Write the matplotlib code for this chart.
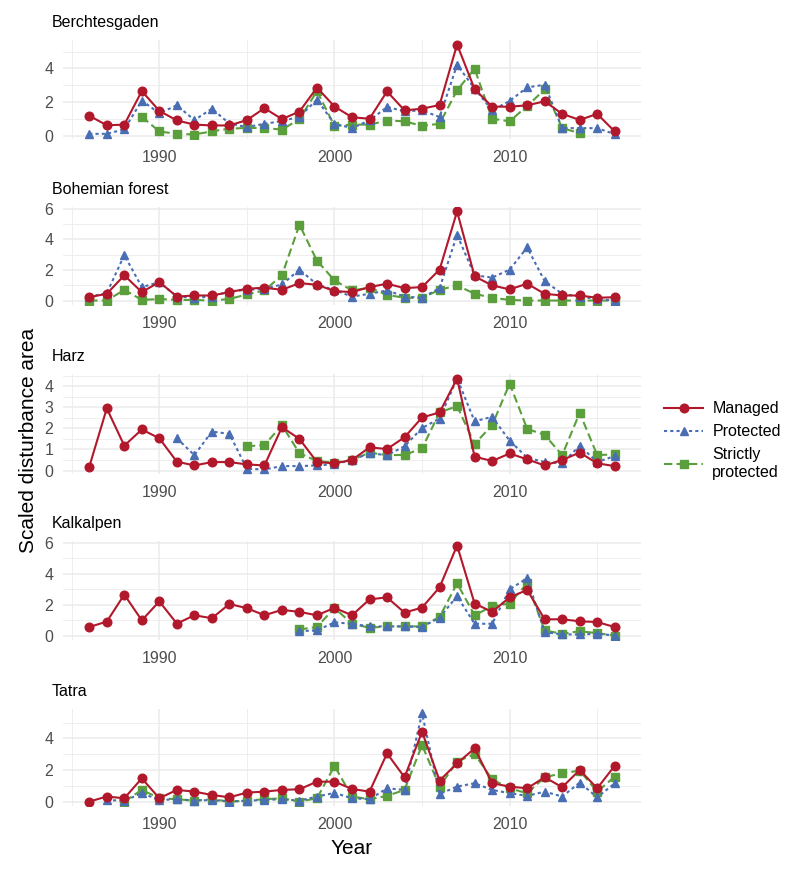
import numpy as np
import matplotlib
matplotlib.use("Agg")
import matplotlib.pyplot as plt
from matplotlib.lines import Line2D

nan = np.nan
years = list(range(1986, 2017))
parks = ["Berchtesgaden", "Bohemian forest", "Harz", "Kalkalpen", "Tatra"]
series_names = ["Managed", "Protected", "Strictly\nprotected"]

berch_managed = [1.18, 0.61, 0.65, 2.65, 1.47, 0.9, 0.65, 0.6, 0.6, 0.92, 1.63, 0.98, 1.43, 2.86, 1.73, 1.09, 1.0, 2.63, 1.5, 1.6, 1.82, 5.43, 2.77, 1.72, 1.72, 1.8, 2.04, 1.29, 0.93, 1.29, 0.24]
berch_protected = [0.1, 0.1, 0.37, 2.08, 1.33, 1.8, 0.92, 1.6, 0.71, 0.5, 0.7, 0.86, 1.12, 2.14, 0.69, 0.45, 0.9, 1.7, 1.45, 1.5, 1.1, 4.22, 2.8, 1.5, 2.06, 2.87, 3.03, 0.44, 0.44, 0.44, 0.08]
berch_strict = [nan, nan, nan, 1.12, 0.24, 0.1, 0.06, 0.25, 0.41, 0.45, 0.45, 0.35, 0.98, 2.65, 0.57, 0.65, 0.65, 0.89, 0.85, 0.57, 0.7, 2.7, 3.98, 1.0, 0.85, 1.76, 2.75, 0.44, 0.14, nan, nan]

bohem_managed = [0.22, 0.44, 1.65, 0.55, 1.21, 0.26, 0.33, 0.33, 0.55, 0.77, 0.84, 0.7, 1.14, 1.03, 0.62, 0.55, 0.88, 1.1, 0.81, 0.88, 2.02, 5.82, 1.58, 0.99, 0.73, 1.1, 0.44, 0.33, 0.33, 0.18, 0.22]
bohem_protected = [0.26, 0.48, 2.97, 0.88, 1.2, 0.26, 0.18, 0.26, 0.6, 0.7, 0.77, 1.05, 2.02, 1.05, 0.68, 0.26, 0.44, 0.66, 0.26, 0.18, 0.81, 4.29, 1.65, 1.5, 2.02, 3.47, 1.27, 0.44, 0.26, 0.1, 0.0]
bohem_strict = [0.0, 0.0, 0.7, 0.04, 0.1, 0.04, 0.04, 0.0, 0.1, 0.4, 0.66, 1.65, 4.95, 2.6, 1.32, 0.66, 0.84, 0.37, 0.18, 0.18, 0.7, 0.99, 0.44, 0.18, 0.04, 0.0, 0.0, 0.0, 0.0, 0.0, 0.0]

harz_managed = [0.18, 2.95, 1.18, 1.95, 1.53, 0.42, 0.24, 0.4, 0.4, 0.29, 0.24, 2.06, 1.5, 0.4, 0.34, 0.5, 1.1, 1.02, 1.58, 2.52, 2.76, 4.37, 0.66, 0.45, 0.81, 0.53, 0.24, 0.5, 0.85, 0.34, 0.21]
harz_protected = [nan, nan, nan, nan, nan, 1.53, 0.73, 1.85, 1.74, 0.08, 0.05, 0.21, 0.21, 0.24, 0.3, 0.5, 0.82, 0.73, 1.15, 2.02, 2.47, 4.37, 2.34, 2.55, 1.42, 0.61, 0.4, 0.34, 1.18, 0.4, 0.69]
harz_strict = [nan, nan, nan, nan, nan, nan, nan, nan, nan, 1.15, 1.21, 2.15, 0.82, 0.45, 0.38, 0.5, 0.85, 0.73, 0.74, 1.05, 2.76, 3.06, 1.26, 2.15, 4.13, 1.98, 1.69, 0.73, 2.74, 0.73, 0.77]

kalk_managed = [0.55, 0.9, 2.65, 0.98, 2.21, 0.77, 1.31, 1.12, 2.04, 1.77, 1.31, 1.66, 1.53, 1.31, 1.79, 1.31, 2.34, 2.47, 1.48, 1.81, 3.12, 5.83, 2.07, 1.53, 2.47, 2.95, 1.05, 1.05, 0.92, 0.87, 0.55]
kalk_protected = [nan] * 12 + [0.28, 0.33, 0.85, 0.76, 0.59, 0.59, 0.59, 0.55, 1.16, 2.55, 0.76, 0.76, 2.99, 3.71, 0.22, 0.07, 0.07, 0.11, 0.0]
kalk_strict = [nan] * 12 + [0.39, 0.55, 1.79, 0.76, 0.5, 0.59, 0.59, 0.59, 1.2, 3.38, 1.31, 1.9, 2.07, 3.38, 0.33, 0.11, 0.28, 0.15, 0.0]

tatra_managed = [0.0, 0.32, 0.21, 1.47, 0.21, 0.74, 0.63, 0.42, 0.27, 0.57, 0.63, 0.74, 0.78, 1.26, 1.26, 0.8, 0.63, 3.05, 1.54, 4.42, 1.33, 2.42, 3.37, 1.16, 0.95, 0.84, 1.54, 0.91, 2.0, 0.84, 2.27]
tatra_protected = [nan, 0.1, 0.05, 0.53, 0.1, 0.15, 0.06, 0.1, 0.0, 0.06, 0.1, 0.15, 0.06, 0.32, 0.55, 0.21, 0.15, 0.84, 0.74, 5.58, 0.48, 0.95, 1.16, 0.74, 0.53, 0.36, 0.63, 0.32, 1.2, 0.27, 1.16]
tatra_strict = [nan, nan, 0.0, 0.74, 0.21, 0.15, 0.06, 0.15, 0.0, 0.06, 0.15, 0.21, 0.0, 0.21, 2.25, 0.32, 0.15, 0.36, 0.74, 3.58, 0.95, 2.53, 3.01, 1.41, 0.84, 0.53, 1.54, 1.79, 1.96, 0.63, 1.58]

panel_data = [
    (berch_managed, berch_protected, berch_strict),
    (bohem_managed, bohem_protected, bohem_strict),
    (harz_managed, harz_protected, harz_strict),
    (kalk_managed, kalk_protected, kalk_strict),
    (tatra_managed, tatra_protected, tatra_strict),
]
y_major = [[0, 2, 4], [0, 2, 4, 6], [0, 1, 2, 3, 4], [0, 2, 4, 6], [0, 2, 4]]
x_major = [1990, 2000, 2010]
x_minor = [1985, 1995, 2005, 2015]

colors = ["#B2182B", "#4A6EB4", "#5A9F3C"]
markers = ["o", "^", "s"]
styles = ["-", (0, (1.5, 1.5)), (0, (4, 2))]

plt.rcParams['font.family'] = ['Liberation Sans', 'DejaVu Sans']
W, H = 800, 874
fig = plt.figure(figsize=(W / 100, H / 100), dpi=100)

left_px, right_px = 63, 641
tops = [40, 207, 374, 541, 709]
heights = [99, 98, 100, 99, 97]
grid_c = "#EBEBEB"

for i, (name, data) in enumerate(zip(parks, panel_data)):
    top = tops[i]
    h = heights[i]
    ax = fig.add_axes([left_px / W, 1 - (top + h) / H, (right_px - left_px) / W, h / H])
    x = np.array(years)
    allv = np.concatenate([np.array(d, float) for d in data])
    vmin, vmax = np.nanmin(allv), np.nanmax(allv)
    pad = (vmax - vmin) * 0.05
    for j in range(3):
        ax.plot(x, np.array(data[j], float), color=colors[j], linestyle=styles[j],
                marker=markers[j], markersize=6.2, linewidth=1.5, zorder=3 + (2 - j))
    ax.set_xlim(1984.5, 2017.5)
    ax.set_ylim(vmin - pad, vmax + pad)
    ax.set_xticks(x_major)
    ax.set_xticks(x_minor, minor=True)
    ax.set_yticks(y_major[i])
    ymin_minor = [v + (y_major[i][1] - y_major[i][0]) / 2 for v in y_major[i]]
    ymin_minor = [v for v in ymin_minor if v < vmax + pad]
    ax.set_yticks(ymin_minor, minor=True)
    ax.grid(True, which='major', color=grid_c, linewidth=1.1)
    ax.grid(True, which='minor', color=grid_c, linewidth=0.6)
    ax.set_axisbelow(True)
    for s in ax.spines.values():
        s.set_visible(False)
    ax.tick_params(which='both', length=0, labelsize=11.5, labelcolor="#4D4D4D")
    ax.tick_params(axis='y', pad=7)
    ax.tick_params(axis='x', pad=8)
    ax.yaxis.set_minor_formatter(plt.NullFormatter())
    ax.text(-0.019, 1 + 10 / h, name, transform=ax.transAxes, ha='left', va='bottom',
            fontsize=11.5, color='black')

fig.text(28 / W, 1 - 440 / H, "Scaled disturbance area", rotation=90, ha='center', va='center', fontsize=15)
fig.text(352 / W, 1 - 848 / H, "Year", ha='center', va='center', fontsize=15)

handles = [Line2D([0], [0], color=colors[j], linestyle=styles[j], marker=markers[j],
                  markersize=6.2, linewidth=1.5) for j in range(3)]
fig.legend(handles, series_names, loc='upper left', bbox_to_anchor=(650 / W, 1 - 387 / H),
           frameon=False, fontsize=11.5, handlelength=2.4, labelspacing=0.5, handletextpad=0.6)

fig.savefig("out.png", dpi=100)
